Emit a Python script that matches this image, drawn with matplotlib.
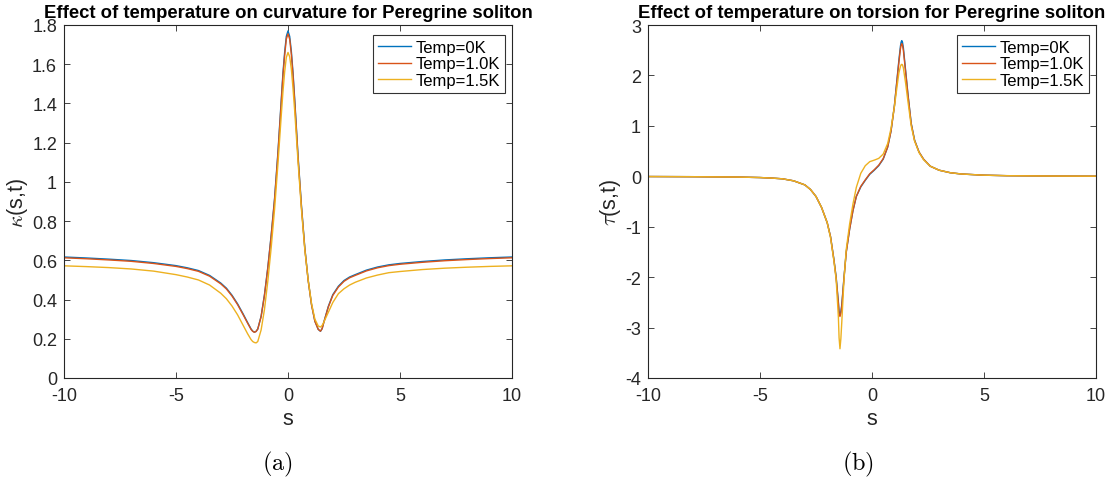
import matplotlib
matplotlib.use("Agg")
import matplotlib.pyplot as plt

plt.rcParams['font.family'] = ['Liberation Sans', 'DejaVu Sans']
plt.rcParams['mathtext.fontset'] = 'cm'

# ---- curvature panel data ----
s_a = [-10, -9, -8, -7, -6, -5, -4.5, -4, -3.5, -3, -2.75, -2.5, -2.25, -2, -1.8,
       -1.65, -1.575, -1.5, -1.425, -1.35, -1.2, -1.05, -0.9, -0.75, -0.6, -0.45,
       -0.3, -0.225, -0.15, -0.075, 0, 0.075, 0.15, 0.225, 0.3, 0.45, 0.6, 0.75,
       0.9, 1.05, 1.2, 1.35, 1.45, 1.525, 1.6, 1.8, 2, 2.25, 2.5, 2.75, 3, 3.5, 4,
       4.5, 5, 6, 7, 8, 9, 10]
kappa_0K = [0.617, 0.612, 0.606, 0.599, 0.588, 0.573, 0.562, 0.548, 0.523, 0.484,
            0.458, 0.422, 0.378, 0.326, 0.282, 0.250, 0.239, 0.234, 0.238, 0.250,
            0.315, 0.425, 0.565, 0.730, 0.915, 1.150, 1.420, 1.555, 1.660, 1.742,
            1.770, 1.742, 1.665, 1.555, 1.420, 1.130, 0.880, 0.665, 0.500, 0.375,
            0.290, 0.248, 0.238, 0.252, 0.285, 0.365, 0.425, 0.468, 0.497, 0.515,
            0.527, 0.550, 0.566, 0.577, 0.584, 0.594, 0.602, 0.608, 0.613, 0.617]
kappa_1K = [0.613, 0.608, 0.602, 0.595, 0.584, 0.569, 0.558, 0.544, 0.519, 0.480,
            0.454, 0.418, 0.374, 0.322, 0.279, 0.248, 0.238, 0.233, 0.237, 0.249,
            0.313, 0.422, 0.560, 0.724, 0.908, 1.140, 1.408, 1.542, 1.645, 1.728,
            1.755, 1.728, 1.650, 1.542, 1.408, 1.120, 0.873, 0.660, 0.497, 0.373,
            0.289, 0.248, 0.239, 0.252, 0.284, 0.362, 0.421, 0.464, 0.493, 0.511,
            0.523, 0.546, 0.562, 0.573, 0.580, 0.590, 0.598, 0.604, 0.609, 0.613]
kappa_15K = [0.572, 0.568, 0.563, 0.556, 0.545, 0.527, 0.515, 0.500, 0.474, 0.432,
             0.404, 0.367, 0.322, 0.268, 0.225, 0.196, 0.186, 0.181, 0.179, 0.186,
             0.245, 0.350, 0.495, 0.665, 0.860, 1.090, 1.340, 1.460, 1.560, 1.635,
             1.660, 1.638, 1.575, 1.475, 1.360, 1.100, 0.860, 0.655, 0.500, 0.380,
             0.300, 0.265, 0.260, 0.268, 0.285, 0.335, 0.385, 0.430, 0.455, 0.474,
             0.488, 0.510, 0.525, 0.537, 0.543, 0.553, 0.560, 0.565, 0.569, 0.572]

# ---- torsion panel data ----
s_b = [-10, -8, -6, -5, -4.5, -4, -3.5, -3, -2.75, -2.5, -2.25, -2, -1.85, -1.7,
       -1.6, -1.5, -1.47, -1.43, -1.39, -1.35, -1.25, -1.15, -1.0, -0.85, -0.7,
       -0.5, -0.3, -0.1, 0.1, 0.3, 0.5, 0.7, 0.85, 1.0, 1.1, 1.2, 1.27, 1.30, 1.33,
       1.36, 1.4, 1.5, 1.6, 1.75, 1.9, 2.1, 2.3, 2.6, 3, 3.5, 4, 5, 6, 8, 10]
tau_0K = [-0.005, -0.008, -0.015, -0.025, -0.035, -0.05, -0.09, -0.17, -0.26, -0.40,
          -0.62, -0.92, -1.20, -1.65, -2.00, -2.50, -2.68, -2.74, -2.68, -2.55,
          -2.00, -1.50, -1.05, -0.68, -0.40, -0.21, -0.08, 0.04, 0.12, 0.21, 0.34,
          0.58, 0.90, 1.40, 1.85, 2.30, 2.58, 2.66, 2.69, 2.66, 2.55, 2.10, 1.65,
          1.05, 0.72, 0.48, 0.34, 0.20, 0.12, 0.07, 0.045, 0.022, 0.012, 0.005, 0.002]
tau_1K = [-0.005, -0.008, -0.015, -0.025, -0.035, -0.05, -0.09, -0.17, -0.26, -0.40,
          -0.62, -0.92, -1.20, -1.66, -2.02, -2.53, -2.72, -2.78, -2.72, -2.58,
          -2.02, -1.51, -1.05, -0.68, -0.40, -0.20, -0.07, 0.05, 0.13, 0.22, 0.35,
          0.58, 0.90, 1.39, 1.83, 2.26, 2.53, 2.60, 2.63, 2.60, 2.50, 2.07, 1.63,
          1.04, 0.71, 0.48, 0.34, 0.20, 0.12, 0.07, 0.045, 0.022, 0.012, 0.005, 0.002]
tau_15K = [-0.005, -0.008, -0.015, -0.025, -0.035, -0.05, -0.09, -0.17, -0.26, -0.40,
           -0.62, -0.92, -1.22, -1.68, -2.05, -2.80, -3.20, -3.42, -3.22, -2.90,
           -2.05, -1.45, -0.95, -0.55, -0.22, 0.06, 0.21, 0.29, 0.32, 0.355, 0.44,
           0.65, 0.95, 1.38, 1.72, 2.05, 2.18, 2.21, 2.22, 2.21, 2.15, 1.85, 1.50,
           1.00, 0.70, 0.47, 0.33, 0.20, 0.12, 0.07, 0.045, 0.022, 0.012, 0.005, 0.002]

labels = ['Temp=0K', 'Temp=1.0K', 'Temp=1.5K']
colors = ['#0072BD', '#D95319', '#EDB120']

W, H = 1119, 485
fig = plt.figure(figsize=(W / 100, H / 100), dpi=100)
ax_a = fig.add_axes([64 / W, 1 - 379 / H, 448 / W, 353 / H])
ax_b = fig.add_axes([648 / W, 1 - 379 / H, 448 / W, 353 / H])

dark = '#262626'


def style(ax):
    ax.tick_params(direction='in', top=True, right=True, length=4.5, width=0.6,
                   colors=dark, labelsize=13)
    ax.tick_params(axis='x', pad=6.5)
    ax.tick_params(axis='y', pad=5)
    for sp in ax.spines.values():
        sp.set_color(dark)
        sp.set_linewidth(0.8)
    ax.set_xlim(-10, 10)
    ax.set_xticks([-10, -5, 0, 5, 10])
    ax.set_xticklabels(['-10', '-5', '0', '5', '10'])
    ax.set_xlabel('s', fontsize=15.5, color=dark, labelpad=3)


for ys, lab, c in zip([kappa_0K, kappa_1K, kappa_15K], labels, colors):
    ax_a.plot(s_a, ys, color=c, lw=1.0, label=lab)
style(ax_a)
ax_a.set_ylim(0, 1.8)
ax_a.set_yticks([0, 0.2, 0.4, 0.6, 0.8, 1.0, 1.2, 1.4, 1.6, 1.8])
ax_a.set_yticklabels(['0', '0.2', '0.4', '0.6', '0.8', '1', '1.2', '1.4', '1.6', '1.8'])
ax_a.set_ylabel(r'$\kappa$(s,t)', fontsize=15.5, color=dark, labelpad=1.5)
ax_a.set_title('Effect of temperature on curvature for Peregrine soliton',
               fontsize=13.3, fontweight='bold', pad=6)

for ys, lab, c in zip([tau_0K, tau_1K, tau_15K], labels, colors):
    ax_b.plot(s_b, ys, color=c, lw=1.0, label=lab)
style(ax_b)
ax_b.set_ylim(-4, 3)
ax_b.set_yticks([-4, -3, -2, -1, 0, 1, 2, 3])
ax_b.set_yticklabels(['-4', '-3', '-2', '-1', '0', '1', '2', '3'])
ax_b.set_ylabel(r'$\tau$(s,t)', fontsize=15.5, color=dark, labelpad=1.5)
ax_b.set_title('Effect of temperature on torsion for Peregrine soliton',
               fontsize=13.3, fontweight='bold', pad=6)

for ax in (ax_a, ax_b):
    leg = ax.legend(loc='upper right', bbox_to_anchor=(1 - 7 / 448, 1 - 10 / 353),
                    borderaxespad=0, fontsize=12, frameon=True, fancybox=False,
                    borderpad=0.3, labelspacing=0.08, handlelength=2.0,
                    handletextpad=0.25)
    leg.get_frame().set_edgecolor('black')
    leg.get_frame().set_linewidth(0.8)

fig.text(277.5 / W, 1 - 464 / H, r'$\mathrm{(a)}$', ha='center', va='center', fontsize=17.5)
fig.text(858 / W, 1 - 464 / H, r'$\mathrm{(b)}$', ha='center', va='center', fontsize=17.5)

fig.savefig('out.png', dpi=100)
